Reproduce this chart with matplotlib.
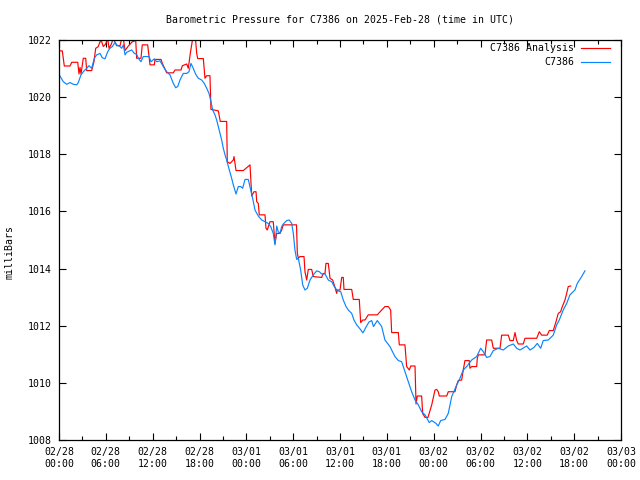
import matplotlib
matplotlib.use('Agg')
import matplotlib.pyplot as plt
from matplotlib.ticker import MultipleLocator

# hours since 2025-02-28 00:00 UTC, pressure in mb
obs_hours = [0, 0.55, 0.99, 1.41, 1.83, 2.27, 2.47, 2.82, 3.11, 3.55, 3.84, 4.19, 4.52, 4.83,
             5.25, 5.55, 5.89, 6.24, 6.53, 6.83, 7.18, 7.39, 7.82, 8.03, 8.24, 8.46, 8.67, 8.97,
             9.31, 9.65, 9.95, 10.16, 10.50, 10.80, 11.53, 11.79, 12.21, 12.52, 12.94, 13.23,
             13.49, 13.80, 14.22, 14.64, 14.95, 15.21, 15.50, 15.92, 16.36, 16.65, 16.91, 17.20,
             17.51, 17.85, 18.28, 18.61, 18.92, 19.22, 19.47, 19.69, 19.98, 20.20, 20.41, 20.63,
             20.84, 21.05, 21.27, 21.48, 21.82, 22.12, 22.33, 22.68, 22.97, 23.28, 23.53, 23.83,
             24.25, 24.56, 24.81, 25.11, 25.53, 25.97, 26.39, 26.81, 27.12, 27.45, 27.67, 27.89,
             28.09, 28.31, 28.53, 28.73, 29.17, 29.50, 29.81, 30.02, 30.23, 30.45, 30.66, 30.96,
             31.22, 31.51, 31.81, 32.16, 32.58, 33.01, 33.35, 33.65, 34.08, 34.50, 34.94, 35.27,
             35.65, 36.09, 36.42, 36.77, 37.06, 37.50, 37.79, 38.14, 38.56, 38.94, 39.33, 39.71,
             40.06, 40.29, 40.78, 41.34, 41.76, 42.40, 43.04, 43.47, 43.90, 44.32, 44.75, 45.18,
             45.61, 46.03, 46.46, 46.89, 47.44, 47.75, 48.30, 48.59, 48.90, 49.45, 49.87, 50.31,
             50.86, 51.37, 51.79, 52.23, 52.87, 53.51, 54.02, 54.36, 54.79, 55.21, 55.64, 56.28,
             56.92, 57.56, 58.20, 58.64, 59.06, 59.92, 60.34, 60.85, 61.27, 61.71, 62.04, 62.68,
             63.32, 63.76, 64.09, 64.60, 65.04, 65.46, 66.10, 66.40, 66.96, 67.38]
obs_mb = [1020.80, 1020.54, 1020.45, 1020.51, 1020.45, 1020.43, 1020.51, 1020.78, 1020.89,
          1021.01, 1021.10, 1021.01, 1021.36, 1021.48, 1021.53, 1021.38, 1021.34, 1021.59,
          1021.71, 1021.77, 1021.92, 1021.83, 1021.77, 1021.71, 1021.83, 1021.48, 1021.57,
          1021.61, 1021.65, 1021.53, 1021.50, 1021.36, 1021.24, 1021.42, 1021.42, 1021.24,
          1021.34, 1021.24, 1021.27, 1021.13, 1021.01, 1020.89, 1020.78, 1020.48, 1020.33,
          1020.37, 1020.60, 1020.83, 1020.83, 1020.89, 1021.18, 1021.01, 1020.80, 1020.66,
          1020.60, 1020.48, 1020.31, 1020.13, 1019.84, 1019.55, 1019.38, 1019.20, 1018.97,
          1018.73, 1018.50, 1018.21, 1017.98, 1017.80, 1017.45, 1017.16, 1016.93, 1016.61,
          1016.87, 1016.87, 1016.81, 1017.12, 1017.12, 1016.75, 1016.46, 1016.05, 1015.84,
          1015.70, 1015.64, 1015.58, 1015.47, 1015.23, 1014.83, 1015.49, 1015.29, 1015.23,
          1015.47, 1015.56, 1015.68, 1015.70, 1015.58, 1015.23, 1014.65, 1014.32, 1014.36,
          1013.95, 1013.43, 1013.25, 1013.31, 1013.60, 1013.78, 1013.92, 1013.89, 1013.81,
          1013.81, 1013.60, 1013.54, 1013.37, 1013.23, 1013.19, 1012.90, 1012.67, 1012.55,
          1012.43, 1012.20, 1012.03, 1011.89, 1011.75, 1011.95, 1012.13, 1012.18, 1011.97,
          1012.18, 1011.97, 1011.50, 1011.27, 1010.92, 1010.78, 1010.74, 1010.39, 1010.04,
          1009.69, 1009.40, 1009.23, 1008.99, 1008.88, 1008.61, 1008.68, 1008.58, 1008.49,
          1008.68, 1008.72, 1008.93, 1009.52, 1009.87, 1010.16, 1010.45, 1010.57, 1010.80,
          1010.92, 1011.21, 1011.09, 1010.89, 1010.92, 1011.13, 1011.21, 1011.15, 1011.29,
          1011.36, 1011.21, 1011.15, 1011.29, 1011.15, 1011.24, 1011.38, 1011.21, 1011.48,
          1011.50, 1011.67, 1012.03, 1012.20, 1012.55, 1012.78, 1013.08, 1013.25, 1013.48,
          1013.72, 1013.92]

ana_hours = [0, 0.42, 0.68, 1.41, 1.63, 2.40, 2.56, 2.69, 2.82, 3.11, 3.42, 3.55, 4.19, 4.48,
             4.70, 5.03, 5.25, 5.47, 5.68, 5.98, 6.24, 6.41, 6.66, 6.96, 7.39, 7.82, 8.03, 8.24,
             8.46, 8.88, 9.39, 9.83, 9.95, 10.50, 10.67, 11.36, 11.66, 12.21, 12.30, 13.07, 13.24,
             13.80, 14.64, 14.86, 15.63, 15.80, 16.36, 16.56, 16.65, 16.82, 17.08, 17.33, 17.51,
             17.64, 17.77, 18.49, 18.70, 18.92, 19.34, 19.47, 20.41, 20.66, 21.48, 21.56, 21.91,
             22.33, 22.42, 22.68, 23.61, 24.47, 24.69, 24.98, 25.24, 25.33, 25.53, 25.66, 26.39,
             26.52, 26.68, 27.03, 27.45, 27.67, 27.89, 28.31, 28.53, 28.73, 30.43, 30.53, 30.66,
             30.87, 31.39, 31.51, 31.73, 31.94, 32.37, 32.58, 33.65, 33.86, 34.08, 34.20, 34.50,
             34.72, 35.06, 35.36, 35.58, 35.65, 36.00, 36.22, 36.42, 36.51, 37.50, 37.70, 38.47,
             38.65, 38.91, 39.20, 39.62, 40.78, 41.34, 41.76, 42.19, 42.49, 42.62, 43.47, 43.60,
             44.32, 44.54, 44.88, 45.06, 45.61, 45.74, 45.90, 46.46, 46.59, 46.89, 47.27, 47.75,
             48.17, 48.39, 48.59, 48.72, 49.67, 49.87, 50.73, 50.95, 51.15, 51.59, 51.79, 52.01,
             52.56, 52.65, 52.87, 53.51, 53.59, 53.72, 54.57, 54.79, 55.43, 55.64, 56.50, 56.71,
             57.56, 57.78, 58.20, 58.42, 58.64, 58.84, 59.48, 59.70, 61.20, 61.53, 61.84, 62.55,
             62.81, 63.32, 63.67, 63.96, 64.27, 64.40, 64.82, 65.04, 65.24, 65.55]
ana_mb = [1021.62, 1021.62, 1021.09, 1021.09, 1021.22, 1021.22, 1020.81, 1021.04, 1020.81,
          1021.36, 1021.36, 1020.93, 1020.93, 1021.24, 1021.71, 1021.77, 1021.94, 1021.94,
          1021.77, 1021.86, 1022.05, 1021.71, 1021.83, 1022.05, 1021.80, 1021.80, 1022.05,
          1022.05, 1021.63, 1021.79, 1021.94, 1021.98, 1021.36, 1021.36, 1021.83, 1021.83,
          1021.13, 1021.13, 1021.32, 1021.32, 1021.18, 1020.85, 1020.85, 1020.95, 1020.95,
          1021.10, 1021.16, 1021.01, 1021.18, 1021.53, 1021.97, 1022.05, 1021.97, 1021.53,
          1021.35, 1021.35, 1020.66, 1020.75, 1020.75, 1019.57, 1019.52, 1019.15, 1019.15,
          1017.74, 1017.68, 1017.80, 1017.92, 1017.43, 1017.43, 1017.63, 1016.54, 1016.69,
          1016.69, 1016.34, 1016.28, 1015.88, 1015.88, 1015.41, 1015.35, 1015.64, 1015.64,
          1014.88, 1015.23, 1015.23, 1015.35, 1015.53, 1015.53, 1014.55, 1014.36, 1014.42,
          1014.42, 1013.89, 1013.60, 1013.97, 1013.97, 1013.72, 1013.69, 1013.83, 1013.83,
          1014.18, 1014.18, 1013.66, 1013.60, 1013.34, 1013.13, 1013.25, 1013.25, 1013.69,
          1013.69, 1013.27, 1013.27, 1012.92, 1012.92, 1012.11, 1012.20, 1012.20, 1012.38,
          1012.38, 1012.55, 1012.67, 1012.67, 1012.55, 1011.76, 1011.76, 1011.33, 1011.33,
          1010.57, 1010.45, 1010.59, 1010.59, 1009.26, 1009.54, 1009.54, 1008.93, 1008.79,
          1008.79, 1009.23, 1009.75, 1009.77, 1009.69, 1009.54, 1009.54, 1009.69, 1009.69,
          1009.93, 1010.08, 1010.10, 1010.45, 1010.78, 1010.78, 1010.51, 1010.57, 1010.57,
          1010.86, 1010.98, 1010.98, 1011.50, 1011.50, 1011.21, 1011.21, 1011.67, 1011.67,
          1011.48, 1011.48, 1011.76, 1011.48, 1011.36, 1011.36, 1011.56, 1011.56, 1011.79,
          1011.67, 1011.67, 1011.83, 1011.83, 1012.14, 1012.43, 1012.49, 1012.61, 1012.90,
          1013.13, 1013.37, 1013.39]

tick_labels = ['02/28\n00:00', '02/28\n06:00', '02/28\n12:00', '02/28\n18:00',
               '03/01\n00:00', '03/01\n06:00', '03/01\n12:00', '03/01\n18:00',
               '03/02\n00:00', '03/02\n06:00', '03/02\n12:00', '03/02\n18:00',
               '03/03\n00:00']

plt.rcParams['font.family'] = 'DejaVu Sans Mono'
plt.rcParams['font.size'] = 7.1

fig = plt.figure(figsize=(6.4, 4.8), dpi=100)
ax = fig.add_axes([59/640, 40/480, 562/640, 400/480])

ax.plot(ana_hours, ana_mb, color='#ff0000', linewidth=0.85, label='C7386 Analysis')
ax.plot(obs_hours, obs_mb, color='#0a84ff', linewidth=0.85, label='C7386')

ax.set_xlim(0, 72)
ax.set_ylim(1008, 1022)
ax.set_xticks(range(0, 73, 6))
ax.set_xticklabels(tick_labels, linespacing=1.2)
ax.xaxis.set_minor_locator(MultipleLocator(3))
ax.set_yticks(range(1008, 1023, 2))

ax.tick_params(which='both', direction='in', top=True, right=True, width=0.8, pad=5)
ax.tick_params(which='major', length=5)
ax.tick_params(which='minor', length=3)
for s in ax.spines.values():
    s.set_linewidth(0.9)

fig.text(340/640, 1 - 19/480, 'Barometric Pressure for C7386 on 2025-Feb-28 (time in UTC)',
         ha='center', va='center')
fig.text(10/640, 1 - 252/480, 'milliBars', rotation=90, ha='center', va='center')

ax.legend(loc='upper right', bbox_to_anchor=(610/640, 1 - 43/480),
          bbox_transform=fig.transFigure, frameon=False, markerfirst=False,
          handlelength=2.9, handletextpad=0.7, labelspacing=0.45,
          borderpad=0, borderaxespad=0)

fig.savefig('out.png', dpi=100)
